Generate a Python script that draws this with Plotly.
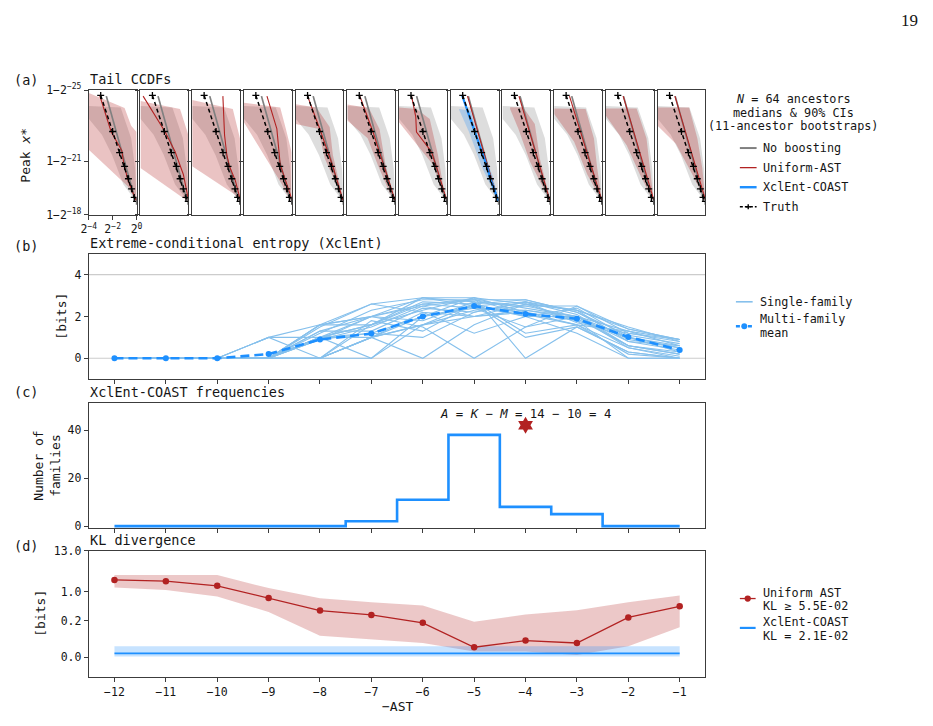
import math
import plotly.graph_objects as go

W, H = 933, 726
FONT = "DejaVu Sans Mono"
TXT = "#151515"
SPINE = "#3c3c3c"

# ------------------------------------------------------------------ data
ast = list(range(-12, 0))          # -AST values (one subplot per value in panel a)

# (a) tail CCDFs: x = CCDF probability (stored as log2), y = level k of peak x* = 1 - 2^-k
truth_ccdf = [1/8, 2/8, 3/8, 4/8, 5/8, 6/8, 7/8, 1.0]
truth_level = [24.71, 22.68, 21.49, 20.72, 20.02, 19.45, 18.97, 18.75]

noboost_log2 = [-2.53, -1.22, -0.12]
noboost_level = [24.67, 21.5, 18.85]
noboost_band_log2 = [-4, -1.33, -0.45, -0.12, 0, -0.1, -1.1, -2.05, -2.9, -4]
noboost_band_level = [24.12, 24.03, 22.3, 20.6, 18.8, 18.8, 19.7, 21.36, 22.5, 23.4]

uniform_log2 = [
    [-3.09, -2.12, -1.24, -1.07, -0.74, -0.19, -0.05],
    [-3.78, -1.93, -1.1, -0.41, -0.08, 0.0],
    [-1.43, -1.29, -1.1, -0.88, -0.38, 0.0],
    [-2.07, -1.24, -0.96, -0.41, 0.0],
    [-3.0, -1.93, -0.93, -0.03],
    [-2.95, -1.85, -0.92, 0.0],
    [-2.95, -2.6, -2.54, -1.29, -0.88, -0.05],
    [-2.6, -1.75, -1.05, -0.5, -0.05],
    [-2.62, -1.7, -0.95, -0.4, -0.03],
    [-2.72, -1.75, -0.95, -0.38, -0.03],
    [-2.55, -1.65, -0.9, -0.35, 0.0],
    [-2.55, -1.65, -0.9, -0.35, 0.0],
]
uniform_level = [
    [24.71, 22.65, 21.62, 20.9, 19.99, 18.97, 18.8],
    [24.67, 22.65, 21.54, 20.26, 19.15, 18.9],
    [24.67, 22.47, 21.36, 20.72, 19.9, 18.9],
    [24.67, 22.83, 20.81, 19.71, 18.9],
    [24.67, 22.74, 20.81, 18.8],
    [24.67, 22.65, 20.72, 18.8],
    [24.67, 23.5, 22.65, 21.54, 20.72, 18.9],
    [24.67, 22.65, 21.0, 19.8, 18.85],
    [24.67, 22.6, 20.8, 19.6, 18.8],
    [24.67, 22.6, 20.8, 19.6, 18.85],
    [24.67, 22.6, 20.8, 19.6, 18.85],
    [24.67, 22.6, 20.8, 19.6, 18.85],
]
uniform_band_log2 = [
    [-4, -1.0, -0.45, 0, 0, -0.05, -0.74, -4],
    [-4, -0.69, 0, 0, -0.13, -1.24, -4],
    [-4, -0.6, 0, 0, -0.1, -0.46, -4],
    [-4, -0.96, -0.49, 0, 0, -0.13, -0.82, -1.65, -4],
    [-4, -2.26, -1.15, -0.88, -0.19, 0, -0.6, -1.57, -2.12, -4],
    [-4, -2.2, -1.3, -0.8, -0.1, 0, -0.4, -1.45, -2.3, -4],
    [-4, -2.54, -1.43, -0.74, -0.19, 0, -0.05, -0.46, -1.15, -2.26, -4],
    None,
    [-3.36, -2.26, -1.29, -0.88, -0.19, 0, -0.74, -1.7, -2.67, -3.36],
    [-4, -1.37, -0.67, -0.4, 0, -0.12, -1.23, -2.33, -4],
    [-4, -1.43, -0.6, -0.33, 0, -0.19, -1.15, -2.26, -4],
    [-4, -1.36, -0.67, -0.26, 0, -0.12, -1.09, -2.47, -4],
]
uniform_band_level = [
    [24.85, 24.0, 23.0, 22.65, 18.8, 18.8, 19.6, 21.65],
    [24.39, 23.94, 22.5, 18.8, 18.8, 19.34, 20.63],
    [24.45, 23.94, 22.28, 18.8, 18.8, 19.15, 20.72],
    [24.3, 24.03, 22.83, 21.5, 18.8, 18.8, 19.71, 20.63, 23.2],
    [24.21, 24.03, 22.93, 21.36, 19.34, 18.8, 19.71, 21.17, 22.83, 23.1],
    [24.2, 24.0, 22.8, 20.8, 19.0, 18.8, 19.15, 20.8, 22.3, 23.3],
    [24.03, 23.94, 23.38, 21.36, 19.15, 18.8, 18.8, 19.34, 20.81, 21.73, 23.2],
    None,
    [24.05, 24.03, 23.1, 21.17, 19.34, 18.8, 19.71, 20.99, 22.83, 23.95],
    [23.97, 23.94, 22.28, 20.63, 18.8, 18.9, 20.26, 22.1, 23.66],
    [23.97, 23.97, 22.28, 20.63, 18.8, 18.97, 20.26, 21.9, 23.56],
    [24.03, 24.03, 22.28, 20.63, 18.8, 18.97, 20.26, 21.99, 23.0],
]
coast_panel = 7   # subplot showing XclEnt-COAST (-AST = -5)
coast_log2 = [-3.05, -2.0, -1.4, -0.97, -0.68, -0.4, -0.17, 0.0]
coast_level = [24.71, 22.68, 21.49, 20.72, 20.02, 19.45, 18.97, 18.75]
coast_band_log2 = [-3.3, -2.33, -1.36, -0.5, 0, -0.3, -1.36, -2.47, -3.3]
coast_band_level = [23.95, 23.85, 21.6, 20.2, 18.8, 19.15, 20.63, 22.65, 23.9]

# (b) extreme-conditional entropy [bits]
single_family = [
    [0, 0, 0, 0, 0, 1.0, 1.6, 2.0, 2.3, 2.0, 0.6, 0.2],
    [0, 0, 0, 1.0, 1.6, 2.6, 2.9, 2.9, 2.6, 2.3, 1.4, 0.9],
    [0, 0, 0, 1.0, 0, 1.0, 1.6, 2.3, 2.5, 2.5, 1.2, 0.8],
    [0, 0, 0, 0, 1.0, 0, 2.0, 2.5, 2.0, 2.4, 1.0, 0.5],
    [0, 0, 0, 0, 1.6, 2.0, 1.5, 0, 1.5, 2.0, 1.3, 0.6],
    [0, 0, 0, 0, 0.9, 1.5, 2.5, 2.8, 2.8, 2.2, 1.1, 0.7],
    [0, 0, 0, 0, 1.3, 2.0, 2.9, 2.7, 1.2, 1.6, 0.5, 0],
    [0, 0, 0, 0, 0, 1.0, 0, 1.6, 2.6, 1.8, 1.0, 0.3],
    [0, 0, 0, 0, 1.0, 1.0, 2.0, 2.9, 0, 1.5, 0.3, 0],
    [0, 0, 0, 0, 1.5, 2.6, 2.2, 2.0, 2.2, 1.8, 0, 0],
    [0, 0, 0, 0, 0, 1.0, 2.2, 1.2, 2.0, 2.0, 0.8, 0.4],
    [0, 0, 0, 0, 1.0, 2.0, 2.6, 2.4, 1.5, 2.5, 1.4, 0.9],
    [0, 0, 0, 0, 0.9, 1.2, 1.0, 2.2, 2.7, 2.1, 0.6, 0.2],
    [0, 0, 0, 1.0, 1.0, 1.6, 2.7, 2.6, 2.0, 1.2, 0, 0],
    [0, 0, 0, 0, 1.6, 2.0, 2.5, 2.0, 2.6, 2.3, 1.5, 0.8],
    [0, 0, 0, 0, 0, 0, 1.6, 2.6, 1.0, 1.5, 0.3, 0],
    [0, 0, 0, 0, 1.2, 2.3, 2.8, 2.8, 2.4, 2.0, 1.0, 0.6],
    [0, 0, 0, 0, 1.0, 1.2, 2.0, 2.4, 2.3, 1.9, 0.6, 0.3],
    [0, 0, 0, 0, 1.6, 1.6, 2.9, 2.5, 2.7, 1.7, 1.2, 0.9],
    [0, 0, 0, 0, 0, 1.8, 1.3, 2.6, 2.8, 2.2, 0.9, 0.5],
    [0, 0, 0, 0, 1.0, 1.6, 2.3, 2.9, 2.2, 1.6, 1.3, 0.9],
    [0, 0, 0, 0, 0.9, 2.0, 1.8, 2.7, 2.5, 2.0, 0.5, 0.1],
    [0, 0, 0, 0, 1.3, 1.3, 2.4, 2.2, 2.7, 2.3, 0.8, 0.6],
    [0, 0, 0, 0, 0, 1.6, 2.6, 2.8, 2.1, 1.6, 0.2, 0],
]
mean_xclent = [0, 0, 0, 0.2, 0.9, 1.18, 2.0, 2.5, 2.12, 1.89, 1.02, 0.4]
entropy_refs = [0, 4]

# (c) XclEnt-COAST frequencies
coast_freq = [0, 0, 0, 0, 0, 2, 11, 38, 8, 5, 0, 0]
star_ast, star_count = -4, 42
eq_ast, eq_count = -4, 46.6

# (d) KL divergence [bits]
uni_kl_med = [2.10, 1.95, 1.46, 0.69, 0.315, 0.24, 0.188, 0.055, 0.091, 0.078, 0.217, 0.41]
uni_kl_hi = [2.85, 2.85, 2.85, 1.27, 0.68, 0.53, 0.435, 0.194, 0.247, 0.32, 0.53, 0.80]
uni_kl_lo = [1.32, 1.12, 0.75, 0.29, 0.117, 0.096, 0.078, 0.032, 0.032, 0.012, 0.060, 0.164]
coast_kl, coast_kl_lo, coast_kl_hi = 0.021, 0.0037, 0.060
kl_ticks = [0.0, 0.2, 1.0, 13.0]

# ------------------------------------------------------------------ helpers
LT = 0.225
LS = 1.0 / (1.0 - 0.1)


def symlog(v):
    if abs(v) <= LT:
        return v * LS / LT
    return math.copysign(LS + math.log10(abs(v) / LT), v)


def xdom(p0, p1):
    return [p0 / W, p1 / W]


def ydom(top, bot):
    return [1 - bot / H, 1 - top / H]


def px(x):
    return x / W


def py(y):
    return 1 - y / H


fig = go.Figure()
layout = dict(
    width=W, height=H, margin=dict(l=0, r=0, t=0, b=0),
    paper_bgcolor="white", plot_bgcolor="white", showlegend=False,
    font=dict(family=FONT, size=11.5, color=TXT),
)
shapes, annotations = [], []

axis_common = dict(showline=True, mirror=True, linecolor=SPINE, linewidth=1,
                   showgrid=False, zeroline=False, ticklen=4, tickwidth=1,
                   tickcolor=SPINE, tickfont=dict(family=FONT, size=11.5, color=TXT))

RED = "#b22222"
BLUE = "#1e90ff"
GRAY = "#808080"

# ------------------------------------------------------------------ panel (a)
A_TOP, A_BOT = 84, 211
for i in range(12):
    n = i + 1
    xs = "x" if n == 1 else f"x{n}"
    ys = "y" if n == 1 else f"y{n}"
    left = 82 + 52.5 * i
    xa = dict(axis_common, domain=xdom(left, left + 48.5), anchor=ys, type="log",
              range=[math.log10(2 ** -4), 0.0])
    if i == 0:
        xa.update(ticks="outside", tickvals=[2 ** -4, 2 ** -2, 1.0],
                  ticktext=["2<sup>−4</sup>", "2<sup>−2</sup>", "2<sup>0</sup>"],
                  showticklabels=True)
    else:
        xa.update(ticks="", showticklabels=False)
    ya = dict(axis_common, domain=ydom(A_TOP, A_BOT), anchor=xs, range=[18, 25],
              ticks="outside", tickvals=[18, 21, 25], showticklabels=(i == 0))
    if i == 0:
        ya["ticktext"] = ["1−2<sup>−18</sup>", "1−2<sup>−21</sup>", "1−2<sup>−25</sup>"]
    layout["xaxis" if n == 1 else f"xaxis{n}"] = xa
    layout["yaxis" if n == 1 else f"yaxis{n}"] = ya

    fig.add_trace(go.Scatter(x=[2 ** e for e in noboost_band_log2], y=noboost_band_level,
                             xaxis=xs, yaxis=ys, mode="lines", fill="toself",
                             fillcolor="rgba(128,128,128,0.27)", line=dict(width=0),
                             hoverinfo="skip"))
    if uniform_band_log2[i] is not None:
        fig.add_trace(go.Scatter(x=[2 ** e for e in uniform_band_log2[i]], y=uniform_band_level[i],
                                 xaxis=xs, yaxis=ys, mode="lines", fill="toself",
                                 fillcolor="rgba(178,34,34,0.27)", line=dict(width=0),
                                 hoverinfo="skip"))
    if i == coast_panel:
        fig.add_trace(go.Scatter(x=[2 ** e for e in coast_band_log2], y=coast_band_level,
                                 xaxis=xs, yaxis=ys, mode="lines", fill="toself",
                                 fillcolor="rgba(30,144,255,0.25)", line=dict(width=0),
                                 hoverinfo="skip"))
    fig.add_trace(go.Scatter(x=[2 ** e for e in noboost_log2], y=noboost_level, xaxis=xs, yaxis=ys,
                             mode="lines", line=dict(color=GRAY, width=1.7), hoverinfo="skip"))
    fig.add_trace(go.Scatter(x=[2 ** e for e in uniform_log2[i]], y=uniform_level[i], xaxis=xs, yaxis=ys,
                             mode="lines", line=dict(color=RED, width=1.1), hoverinfo="skip"))
    if i == coast_panel:
        fig.add_trace(go.Scatter(x=[2 ** e for e in coast_log2], y=coast_level, xaxis=xs, yaxis=ys,
                                 mode="lines", line=dict(color=BLUE, width=2.2), hoverinfo="skip"))
    fig.add_trace(go.Scatter(x=truth_ccdf, y=truth_level, xaxis=xs, yaxis=ys,
                             mode="lines+markers",
                             line=dict(color="black", width=1.5, dash="4px,3px"),
                             marker=dict(symbol="cross-thin", size=5, color="black",
                                         line=dict(color="black", width=1.3)),
                             hoverinfo="skip"))

# ------------------------------------------------------------------ panel (b)
XR = [-12.5, -0.5]
layout["xaxis13"] = dict(axis_common, domain=xdom(82, 708), anchor="y13", range=XR,
                         tickvals=ast, ticks="outside", showticklabels=False)
layout["yaxis13"] = dict(axis_common, domain=ydom(251, 379), anchor="x13", range=[-1, 5],
                         tickvals=[0, 2, 4], ticks="outside")
for v in entropy_refs:
    shapes.append(dict(type="line", xref="x13 domain", yref="y13", x0=0, x1=1, y0=v, y1=v,
                       line=dict(color="#cccccc", width=1.2), layer="below"))
for fam in single_family:
    fig.add_trace(go.Scatter(x=ast, y=fam, xaxis="x13", yaxis="y13", mode="lines",
                             line=dict(color="#86c0ec", width=1.1), hoverinfo="skip"))
fig.add_trace(go.Scatter(x=ast, y=mean_xclent, xaxis="x13", yaxis="y13", mode="lines+markers",
                         line=dict(color=BLUE, width=2.6, dash="9px,5px"),
                         marker=dict(size=6, color=BLUE), hoverinfo="skip"))

# ------------------------------------------------------------------ panel (c)
layout["xaxis14"] = dict(axis_common, domain=xdom(82, 708), anchor="y14", range=XR,
                         tickvals=ast, ticks="outside", showticklabels=False)
layout["yaxis14"] = dict(axis_common, domain=ydom(403, 531), anchor="x14", range=[-0.8, 51.4],
                         tickvals=[0, 20, 40], ticks="outside")
fig.add_trace(go.Scatter(x=ast, y=coast_freq, xaxis="x14", yaxis="y14", mode="lines",
                         line=dict(color=BLUE, width=2.6, shape="hvh"), hoverinfo="skip"))
fig.add_trace(go.Scatter(x=[star_ast], y=[star_count], xaxis="x14", yaxis="y14", mode="markers",
                         marker=dict(symbol="hexagram", size=13, color=RED, line=dict(width=0)),
                         hoverinfo="skip"))
annotations.append(dict(x=eq_ast, y=eq_count, xref="x14", yref="y14", showarrow=False,
                        text="<i>A</i> = <i>K</i> − <i>M</i> = 14 − 10 = 4",
                        font=dict(family=FONT, size=12.3, color=TXT)))

# ------------------------------------------------------------------ panel (d)
layout["xaxis15"] = dict(axis_common, domain=xdom(82, 708), anchor="y15", range=XR,
                         tickvals=ast, ticks="outside", showticklabels=True)
layout["yaxis15"] = dict(axis_common, domain=ydom(554, 683), anchor="x15",
                         range=[-0.527, symlog(13.0)],
                         tickvals=[symlog(v) for v in kl_ticks],
                         ticktext=[f"{v:.1f}" for v in kl_ticks], ticks="outside")
fig.add_trace(go.Scatter(x=ast + ast[::-1],
                         y=[symlog(v) for v in uni_kl_hi] + [symlog(v) for v in uni_kl_lo[::-1]],
                         xaxis="x15", yaxis="y15", mode="lines", fill="toself",
                         fillcolor="rgba(178,34,34,0.25)", line=dict(width=0), hoverinfo="skip"))
fig.add_trace(go.Scatter(x=[ast[0], ast[-1], ast[-1], ast[0]],
                         y=[symlog(coast_kl_hi)] * 2 + [symlog(coast_kl_lo)] * 2,
                         xaxis="x15", yaxis="y15", mode="lines", fill="toself",
                         fillcolor="rgba(30,144,255,0.25)", line=dict(width=0), hoverinfo="skip"))
fig.add_trace(go.Scatter(x=[ast[0], ast[-1]], y=[symlog(coast_kl)] * 2, xaxis="x15", yaxis="y15",
                         mode="lines", line=dict(color=BLUE, width=1.8), hoverinfo="skip"))
fig.add_trace(go.Scatter(x=ast, y=[symlog(v) for v in uni_kl_med], xaxis="x15", yaxis="y15",
                         mode="lines+markers", line=dict(color=RED, width=1.3),
                         marker=dict(size=6.5, color=RED), hoverinfo="skip"))

# ------------------------------------------------------------------ text
def ann(x, y, text, size=13.5, xanchor="left", angle=0, family=FONT):
    annotations.append(dict(x=px(x), y=py(y), xref="paper", yref="paper", text=text,
                            showarrow=False, xanchor=xanchor, yanchor="middle",
                            textangle=angle, font=dict(family=family, size=size, color=TXT)))


ann(915, 13, "19", size=17, xanchor="center", family="Liberation Serif")
for lab, yy in [("(a)", 74), ("(b)", 243), ("(c)", 392), ("(d)", 549)]:
    ann(4, yy, lab, size=13.5)
ann(81, 73, "Tail CCDFs")
ann(81, 240, "Extreme-conditional entropy (XclEnt)")
ann(81, 392, "XclEnt-COAST frequencies")
ann(81, 543, "KL divergence")
ann(18, 150, "Peak <i>x</i>*", size=13, xanchor="center", angle=-90)
ann(54, 315, "[bits]", size=13, xanchor="center", angle=-90)
ann(40, 467, "Number of<br>families", size=13, xanchor="center", angle=-90)
ann(33, 618, "[bits]", size=13, xanchor="center", angle=-90)
ann(395, 713, "−AST", size=13, xanchor="center")

# legend (a)
ann(797, 93, "<i>N</i> = 64 ancestors", size=11.8, xanchor="center")
ann(797, 107, "medians & 90% CIs", size=11.8, xanchor="center")
ann(797, 121, "(11-ancestor bootstraps)", size=11.8, xanchor="center")


def seg(x0, x1, y, color, width, dash=None):
    line = dict(color=color, width=width)
    if dash:
        line["dash"] = dash
    shapes.append(dict(type="line", xref="paper", yref="paper", x0=px(x0), x1=px(x1),
                       y0=py(y), y1=py(y), line=line))


def dot(cx, cy, r, color):
    shapes.append(dict(type="circle", xref="paper", yref="paper", x0=px(cx - r), x1=px(cx + r),
                       y0=py(cy + r), y1=py(cy - r), fillcolor=color, line=dict(width=0)))


leg_a = [("No boosting", GRAY, 2.0), ("Uniform-AST", RED, 1.3), ("XclEnt-COAST", BLUE, 2.4)]
for k, (label, col, wdt) in enumerate(leg_a):
    yy = 143 + 20 * k
    seg(743, 760, yy, col, wdt)
    ann(764, yy, label, size=11.8)
seg(743, 760, 203, "black", 1.4, dash="3px,2px")
seg(749, 754, 203, "black", 1.4)
shapes.append(dict(type="line", xref="paper", yref="paper", x0=px(751.5), x1=px(751.5),
                   y0=py(200.5), y1=py(205.5), line=dict(color="black", width=1.4)))
ann(764, 203, "Truth", size=11.8)

# legend (b)
seg(739, 756, 300, "#86c0ec", 1.6)
ann(761, 300, "Single-family", size=11.8)
seg(739, 756, 325, BLUE, 2.6, dash="4px,2px")
dot(747.5, 325, 3, BLUE)
ann(761, 318, "Multi-family", size=11.8)
ann(761, 332, "mean", size=11.8)

# legend (d)
seg(743, 759, 603, RED, 1.3)
dot(751, 603, 3.2, RED)
ann(764, 597, "Uniform AST", size=11.8)
ann(764, 611, "KL ≥ 5.5E-02", size=11.8)
seg(743, 759, 633, BLUE, 2.2)
ann(764, 627, "XclEnt-COAST", size=11.8)
ann(764, 641, "KL = 2.1E-02", size=11.8)

layout["shapes"] = shapes
layout["annotations"] = annotations
fig.update_layout(**layout)
fig.write_html("out.html")
